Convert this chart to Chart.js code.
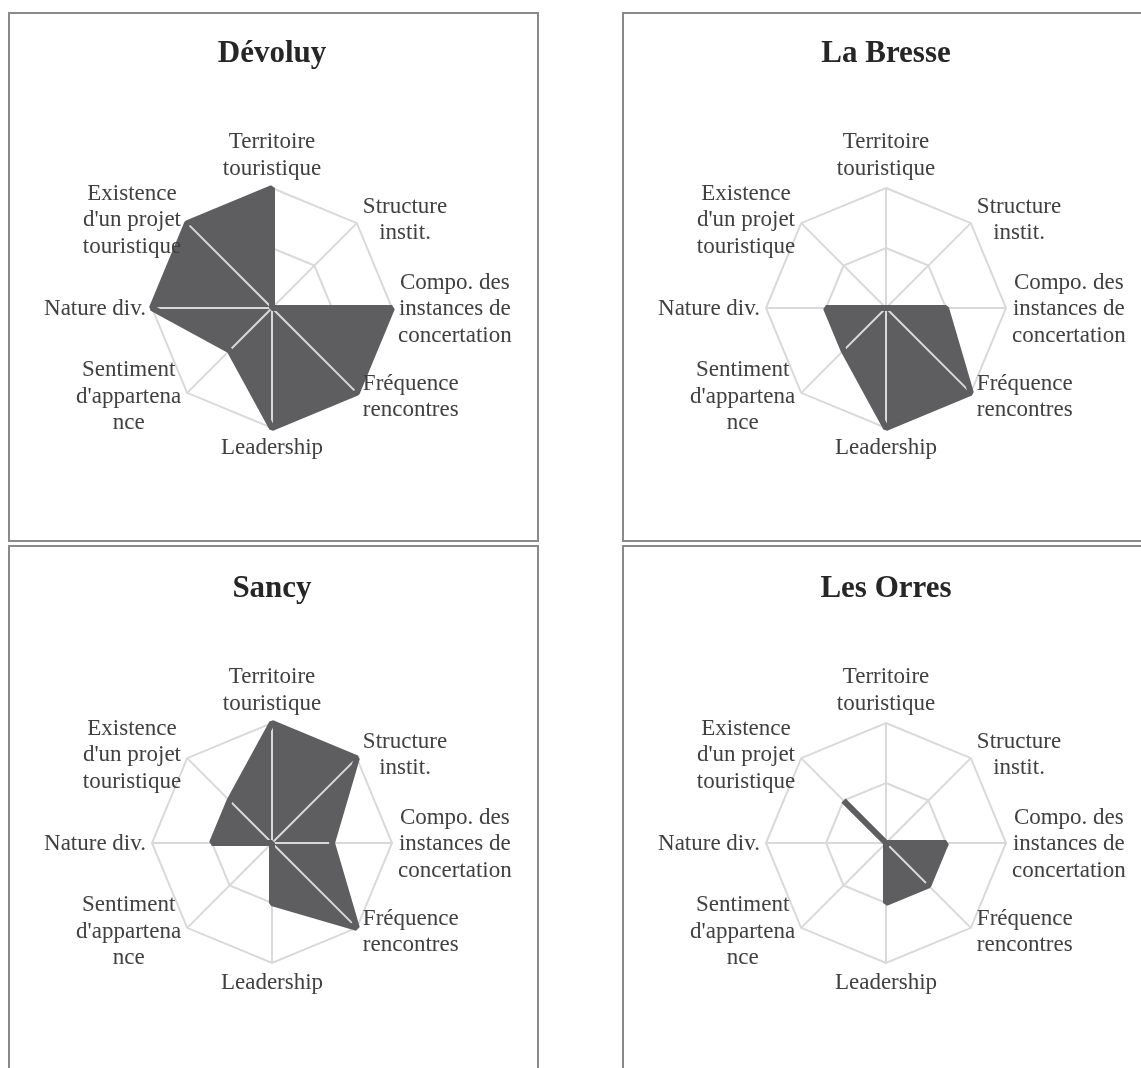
<!DOCTYPE html>
<html>
<head>
<meta charset="utf-8">
<script src="https://cdn.jsdelivr.net/npm/chart.js@4/dist/chart.umd.min.js"></script>
<style>
  html, body { margin: 0; padding: 0; overflow: hidden; background: #fff; }
  body { width: 1141px; height: 1068px; position: relative; }
  .panel { position: absolute; width: 527px; height: 526px; border: 2px solid #8a8a8a; }
  .panel canvas { display: block; }
</style>
</head>
<body>
<div class="panel" style="left:8px; top:12px;"><canvas id="devoluy" width="527" height="526"></canvas></div>
<div class="panel" style="left:622px; top:12px;"><canvas id="bresse" width="527" height="526"></canvas></div>
<div class="panel" style="left:8px; top:545px;"><canvas id="sancy" width="527" height="526"></canvas></div>
<div class="panel" style="left:622px; top:545px;"><canvas id="orres" width="527" height="526"></canvas></div>

<script>
// axes du radar (libellés sur plusieurs lignes)
const axisLabels = [
    ['Territoire', 'touristique'],
    ['Structure', 'instit.'],
    ['Compo. des', 'instances de', 'concertation'],
    ['Fréquence', 'rencontres'],
    ['Leadership'],
    ['Sentiment', "d'appartena", 'nce'],
    ['Nature div.'],
    ['Existence', "d'un projet", 'touristique']
];

const devoluyValues = [2, 0, 2, 2, 2, 1, 2, 2];
const bresseValues  = [0, 0, 1, 2, 2, 1, 1, 0];
const sancyValues   = [2, 2, 1, 2, 1, 0, 1, 1];
const orresValues   = [0, 0, 1, 1, 1, 0, 0, 1];

const scaleTicks = [0, 1, 2];

const DARK = '#5e5e60';
const GRID = '#d9d9d9';
const TEXT = '#404040';

Chart.defaults.font.family = "'Liberation Serif', 'DejaVu Serif', serif";

// un sommet isolé (voisins à 0) : on trace la ligne, sinon pas de bordure
function isSpike(data, i) {
    const n = data.length;
    return data[i] > 0 && data[(i - 1 + n) % n] === 0 && data[(i + 1) % n] === 0;
}

// rayons dessinés par-dessus le remplissage
const spokesPlugin = {
    id: 'spokes',
    beforeDatasetsDraw(chart) {
        const scale = chart.scales.r;
        const ctx = chart.ctx;
        ctx.save();
        ctx.strokeStyle = GRID;
        ctx.lineWidth = 2;
        for (let i = 0; i < axisLabels.length; i++) {
            const p = scale.getPointPosition(i, scale.drawingArea);
            ctx.beginPath();
            ctx.moveTo(scale.xCenter, scale.yCenter);
            ctx.lineTo(p.x, p.y);
            ctx.stroke();
        }
        ctx.restore();
    }
};

// libellés centrés comme dans Excel
const labelsPlugin = {
    id: 'axisText',
    afterDraw(chart) {
        const scale = chart.scales.r;
        const ctx = chart.ctx;
        const lh = 26.5;
        ctx.save();
        ctx.font = "23px 'Liberation Serif'";
        ctx.fillStyle = TEXT;
        ctx.textAlign = 'center';
        ctx.textBaseline = 'middle';
        axisLabels.forEach((lines, i) => {
            const p = scale.getPointPosition(i, scale.drawingArea);
            const w = Math.max(...lines.map(l => ctx.measureText(l).width));
            const h = lines.length * lh;
            const dx = p.x - scale.xCenter;
            const dy = p.y - scale.yCenter;
            let cx, top;
            if (Math.abs(dx) < 1) {
                cx = p.x;
                top = dy < 0 ? p.y - 6 - h : p.y + 7;
            } else {
                cx = dx > 0 ? p.x + 6 + w / 2 : p.x - 6 - w / 2;
                if (dy < -1) top = p.y - h / 2 - 3;
                else if (dy > 1) top = p.y - h / 2 + 4;
                else top = p.y - h / 2 + 1;
            }
            lines.forEach((l, k) => ctx.fillText(l, cx, top + lh * (k + 0.5)));
        });
        ctx.restore();
    }
};

function drawRadar(id, title, values, titleTop, padTitle, padBottom) {
    const ctx = document.getElementById(id).getContext('2d');
    return new Chart(ctx, {
        type: 'radar',
        data: {
            labels: axisLabels,
            datasets: [{
                data: values,
                backgroundColor: DARK,
                borderColor: DARK,
                borderWidth: 6,
                borderJoinStyle: 'bevel',
                borderCapStyle: 'butt',
                fill: 'origin',
                pointRadius: 0,
                segment: {
                    borderColor: c => (isSpike(values, c.p0DataIndex) || isSpike(values, c.p1DataIndex)) ? DARK : 'rgba(0,0,0,0)'
                }
            }]
        },
        options: {
            responsive: false,
            animation: false,
            events: [],
            layout: { padding: { left: 141, right: 144, top: 0, bottom: padBottom } },
            plugins: {
                legend: { display: false },
                tooltip: { enabled: false },
                filler: { drawTime: 'beforeDatasetsDraw' },
                title: {
                    display: true,
                    text: title,
                    color: '#262626',
                    font: { size: 31, weight: 'bold', lineHeight: 1.2 },
                    padding: { top: titleTop, bottom: padTitle }
                }
            },
            scales: {
                r: {
                    min: scaleTicks[0],
                    max: scaleTicks[scaleTicks.length - 1],
                    ticks: { display: false, stepSize: 1 },
                    grid: { color: GRID, lineWidth: 2 },
                    angleLines: { display: false },
                    pointLabels: { display: false }
                }
            }
        },
        plugins: [spokesPlugin, labelsPlugin]
    });
}

drawRadar('devoluy', 'Dévoluy', devoluyValues, 21, 115, 111);
drawRadar('bresse', 'La Bresse', bresseValues, 21, 115, 111);
drawRadar('sancy', 'Sancy', sancyValues, 23, 115, 109);
drawRadar('orres', 'Les Orres', orresValues, 23, 115, 109);
</script>
</body>
</html>
